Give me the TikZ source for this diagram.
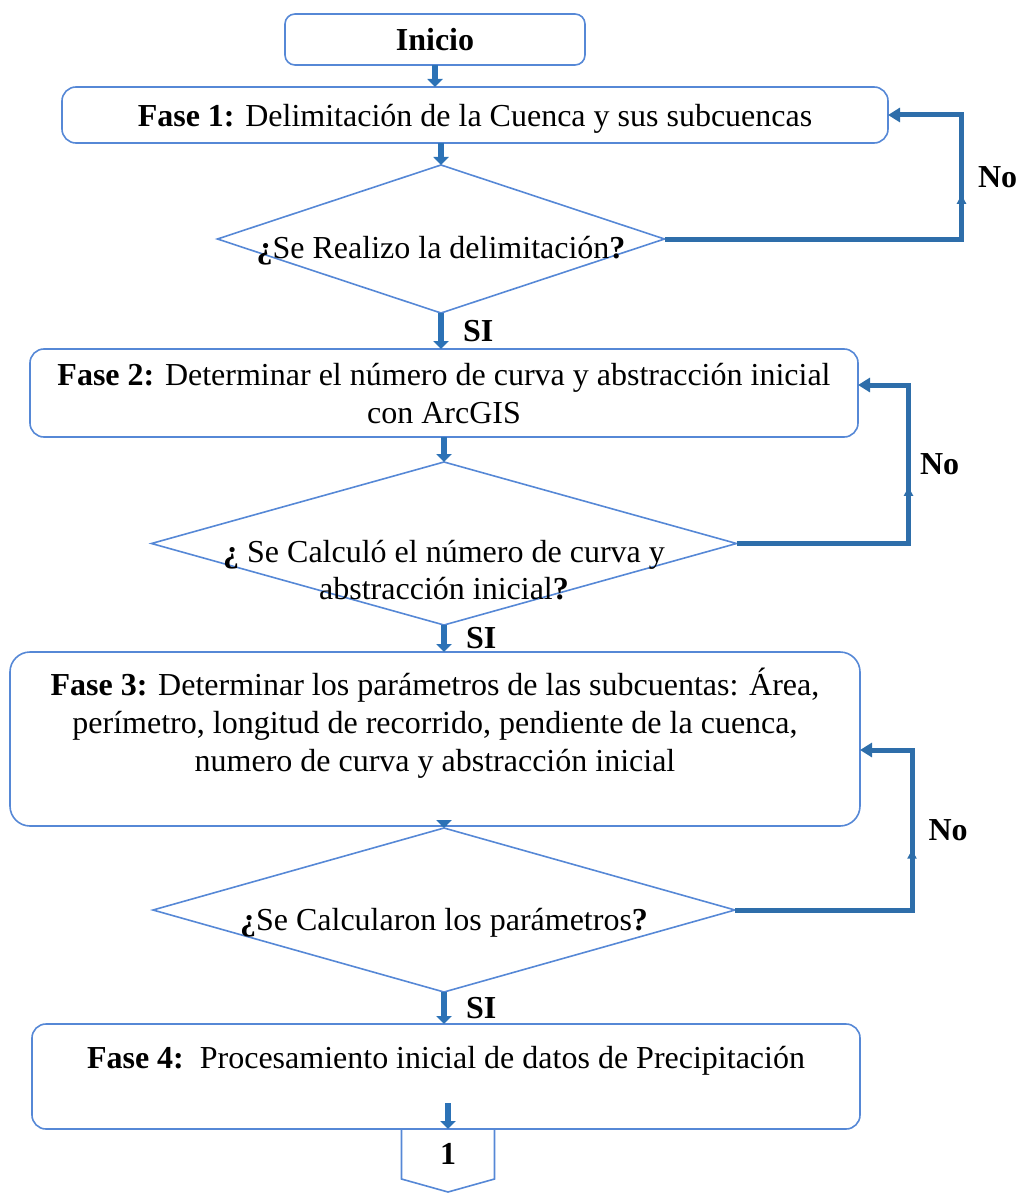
\documentclass[tikz,border=0pt]{standalone}
\usepackage{fontspec}
\setmainfont{Liberation Serif}
\usetikzlibrary{arrows, arrows.meta, positioning, calc, shapes.geometric, decorations.markings}
\definecolor{borde}{RGB}{86,136,214}
\definecolor{flechaazul}{RGB}{44,114,182}
\definecolor{lazoazul}{RGB}{46,110,170}
\tikzset{
x=1pt, y=1pt,
node distance=22pt,
box/.style={%
    rectangle,
    rounded corners=14pt,
    draw=borde,
    line width=1.6pt,
    align=center,
    inner sep=0pt,
    outer sep=0pt,
    text depth=0pt,
    % Font
    font=\fontsize{32}{38}\selectfont
},
inicio/.style={box, rounded corners=10pt, minimum width=300pt, minimum height=51pt},
decision/.style={%
    diamond, draw=borde, line width=1.6pt, inner sep=0pt, outer sep=0pt
},
pregunta/.style={align=center, inner sep=0pt, font=\fontsize{32}{37}\selectfont},
flecha/.style={draw=flechaazul, line width=6pt, -{Triangle[length=8pt,width=15pt]}},
lazo/.style={draw=lazoazul, line width=5pt, -{Triangle[length=12pt,width=14pt]},
    postaction={decorate},
    decoration={markings, mark=at position #1 with {\arrow{Triangle[length=9pt,width=9pt]}}}},
retorno/.style={to path={-- ++(#1,0) |- (\tikztotarget) \tikztonodes}},
si/.style={right, inner sep=0pt, xshift=19pt, font=\fontsize{32}{38}\selectfont\bfseries},
no/.style={right, inner sep=0pt, pos=0.25, font=\fontsize{32}{38}\selectfont\bfseries},
conector/.style={rectangle, minimum width=93pt, minimum height=50pt, inner sep=0pt, outer sep=0pt,
    font=\fontsize{32}{38}\selectfont\bfseries},
}

\begin{document}
\begin{tikzpicture}
\useasboundingbox (0,0) rectangle (1019,-1193);
	\node[inicio] (inicio) at (435,-39.5) {\textbf{Inicio}};
	\node[box, minimum width=826pt, minimum height=56pt, below=22pt of inicio, xshift=40pt] (f1)
		{\textbf{Fase 1:} Delimitación de la Cuenca y sus subcuencas};
	\node[decision, minimum width=447pt, minimum height=148pt, below=22pt of f1, xshift=-34pt] (d1) {};
	\node[pregunta] (q1) at ([yshift=-12pt]d1.center) {\textbf{¿}Se Realizo la delimitación\textbf{?}};
	\node[box, minimum width=828pt, minimum height=88pt, below=36pt of d1, xshift=3pt] (f2)
		{\textbf{Fase 2:} Determinar el número de curva y abstracción inicial\\ con ArcGIS};
	\node[decision, minimum width=585pt, minimum height=163pt, below=25pt of f2] (d2) {};
	\node[pregunta] (q2) at ([yshift=-27pt]d2.center)
		{\textbf{¿} Se Calculó el número de curva y\\ abstracción inicial\textbf{?}};
	\node[box, rounded corners=20pt, minimum width=850pt, minimum height=174pt, below=27pt of d2, xshift=-9pt] (f3)
		{\textbf{Fase 3:} Determinar los parámetros de las subcuentas: Área,\\
		perímetro, longitud de recorrido, pendiente de la cuenca,\\
		numero de curva y abstracción inicial\\ \mbox{}};
	\node[decision, minimum width=582pt, minimum height=164pt, below=2pt of f3, xshift=9pt] (d3) {};
	\node[pregunta] (q3) at ([yshift=-13pt]d3.center) {\textbf{¿}Se Calcularon los parámetros\textbf{?}};
	\node[box, minimum width=828pt, minimum height=105pt, below=32pt of d3, xshift=2pt] (f4)
		{\textbf{Fase 4:}\ \ Procesamiento inicial de datos de Precipitación\\ \mbox{}};
	\node[conector, below=0pt of f4, xshift=2pt] (c1) {1};
	\coordinate[above=26pt of c1.north] (salida);

	% conector fuera de pagina
	\draw[draw=borde, line width=1.6pt] (c1.north west) -- (c1.south west)
		-- ([yshift=-13pt]c1.south) -- (c1.south east) -- (c1.north east);

	% flujo principal
	\draw[flecha] (inicio.south) -- (inicio.south |- f1.north);
	\draw[flecha] (d1.north |- f1.south) -- (d1.north);
	\draw[flecha] (d1.south) -- (d1.south |- f2.north) node[si, midway] {SI};
	\draw[flecha] (d2.north |- f2.south) -- (d2.north);
	\draw[flecha] (d2.south) -- (d2.south |- f3.north) node[si, midway] {SI};
	\draw[flecha] (d3.north |- f3.south) -- (d3.north);
	\draw[flecha] (d3.south) -- (d3.south |- f4.north) node[si, midway] {SI};
	\draw[flecha] (salida) -- (c1.north);

	% retornos
	\draw[lazo=0.69] (d1.east) to[retorno=297] node[no, xshift=14pt] {No} (f1.east);
	\draw[lazo=0.60] (d2.east) to[retorno=172] node[no, xshift=9pt] {No} ([yshift=8pt]f2.east);
	\draw[lazo=0.61] (d3.east) to[retorno=177] node[no, xshift=14pt] {No} ([yshift=-11pt]f3.east);
\end{tikzpicture}
\end{document}
